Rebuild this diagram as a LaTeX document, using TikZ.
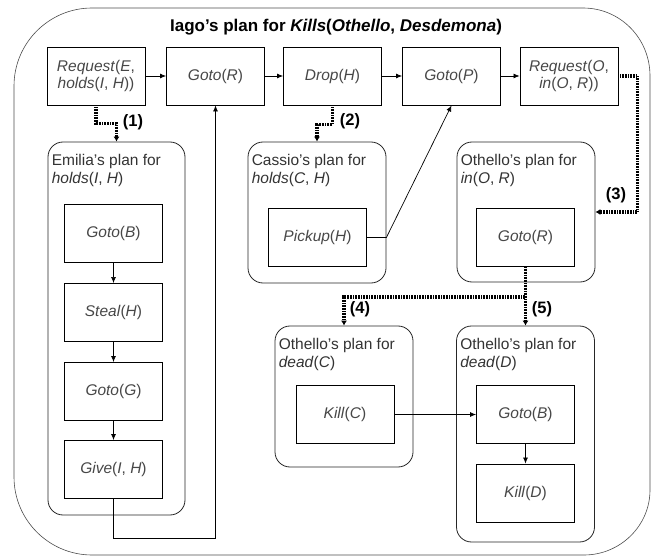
\documentclass[tikz,border=0pt]{standalone}
\usepackage{fontspec}
\setmainfont{Liberation Sans}
\usetikzlibrary{arrows.meta}
\newcommand{\fn}[1]{\textit{#1}}
\begin{document}
\begin{tikzpicture}[x=1pt,y=-1pt,
  act/.style={draw=black, line width=0.9pt, minimum width=98pt, minimum height=58pt,
    inner sep=1pt, align=center, text=black!72,
    font=\fontsize{15.5}{17}\selectfont},
  plan/.style={draw=black!85, line width=0.8pt, rounded corners=15pt},
  plabel/.style={anchor=north west, inner sep=0pt, align=left, text=black!80,
    font=\fontsize{15.5}{18}\selectfont},
  arr/.style={line width=0.7pt, -{Latex[length=6pt,width=5pt]}},
  dep/.style={line width=3.4pt, draw=black, dash pattern=on 1pt off 0.6pt,
    -{Latex[length=5pt,width=6pt]}},
  num/.style={inner sep=0pt, font=\fontsize{16.5}{18}\selectfont\bfseries},
  outer/.style={draw=black!70, line width=0.6pt}
]
\useasboundingbox (0,0) rectangle (651,556);

% outer plan (Iago)
\draw[outer] (14,86) .. controls (14,43) and (49,8) .. (92,8) -- (583,8)
  .. controls (620,8) and (650,38) .. (650,76) -- (650,490)
  .. controls (650,526) and (620,555) .. (584,555) -- (92,555)
  .. controls (49,555) and (14,520) .. (14,477) -- cycle;
\node[inner sep=0pt, font=\fontsize{17}{19}\selectfont\bfseries] (title) at (336,27)
  {Iago's plan for \fn{Kills}(\fn{Othello}, \fn{Desdemona})};

% top row
\node[act] (reqE) at (96,76) {\fn{Request}(\fn{E},\\\fn{holds}(\fn{I}, \fn{H}))};
\node[act] (gotoR) at (215.5,76) {\fn{Goto}(\fn{R})};
\node[act] (drop) at (332.5,76) {\fn{Drop}(\fn{H})};
\node[act] (gotoP) at (451.5,76) {\fn{Goto}(\fn{P})};
\node[act] (reqO) at (569,76) {\fn{Request}(\fn{O},\\\fn{in}(\fn{O}, \fn{R}))};

% sub-plans
\node[plan, minimum width=137pt, minimum height=373pt] (emilia) at (116.5,328.5) {};
\node[plabel] (emiliaL) at ([shift={(4,12)}]emilia.north west) {Emilia's plan for\\\fn{holds}(\fn{I}, \fn{H})};
\node[plan, minimum width=138pt, minimum height=141pt] (cassio) at (317,212.5) {};
\node[plabel] (cassioL) at ([shift={(4,12)}]cassio.north west) {Cassio's plan for\\\fn{holds}(\fn{C}, \fn{H})};
\node[plan, minimum width=138pt, minimum height=140pt] (othIn) at (526,212) {};
\node[plabel] (othInL) at ([shift={(4,12)}]othIn.north west) {Othello's plan for\\\fn{in}(\fn{O}, \fn{R})};
\node[plan, minimum width=138pt, minimum height=141pt] (othC) at (344,396.5) {};
\node[plabel] (othCL) at ([shift={(4,12)}]othC.north west) {Othello's plan for\\\fn{dead}(\fn{C})};
\node[plan, minimum width=138pt, minimum height=216pt] (othD) at (525.5,434) {};
\node[plabel] (othDL) at ([shift={(4,12)}]othD.north west) {Othello's plan for\\\fn{dead}(\fn{D})};

% inner steps
\node[act] (gotoB) at (113.5,233.5) {\fn{Goto}(\fn{B})};
\node[act] (steal) at (113.5,312.5) {\fn{Steal}(\fn{H})};
\node[act] (gotoG) at (113.5,391.5) {\fn{Goto}(\fn{G})};
\node[act] (give) at (113.5,469.5) {\fn{Give}(\fn{I}, \fn{H})};
\node[act] (pickup) at (317.5,237.5) {\fn{Pickup}(\fn{H})};
\node[act] (gotoR2) at (525.5,237.5) {\fn{Goto}(\fn{R})};
\node[act] (killC) at (345,414.5) {\fn{Kill}(\fn{C})};
\node[act] (gotoB2) at (525.5,414.5) {\fn{Goto}(\fn{B})};
\node[act] (killD) at (525.5,493) {\fn{Kill}(\fn{D})};

% solid connectors
\draw[arr] (reqE) -- (gotoR);
\draw[arr] (gotoR) -- (drop);
\draw[arr] (drop) -- (gotoP);
\draw[arr] (gotoP) -- (reqO);
\draw[arr] (gotoB) -- (steal);
\draw[arr] (steal) -- (gotoG);
\draw[arr] (gotoG) -- (give);
\draw[arr] (give.south) -- ++(0,39) -| (gotoR.south);
\draw[arr] (pickup.east) -- (cassio.east |- pickup.east) -- (gotoP.south);
\draw[arr] (killC) -- (gotoB2);
\draw[arr] (gotoB2) -- (killD);

% decomposition connectors
\draw[dep] (reqE.south) -- ++(0,18) -| (emilia.north);
\draw[dep] (drop.south) -- ++(0,19) -| (cassio.north);
\draw[dep] (reqO.east) -- ++(19,0) |- (othIn.east);
\draw[dep] (gotoR2.south) -- ++(0,30) -| (othC.north);
\draw[dep] (gotoR2.south) -- (othD.north);

% labels
\node[num] (n1) at (133,122) {(1)};
\node[num] (n2) at (350,121) {(2)};
\node[num] (n3) at (616,195) {(3)};
\node[num] (n4) at (360,309) {(4)};
\node[num] (n5) at (542,309) {(5)};
\end{tikzpicture}
\end{document}
